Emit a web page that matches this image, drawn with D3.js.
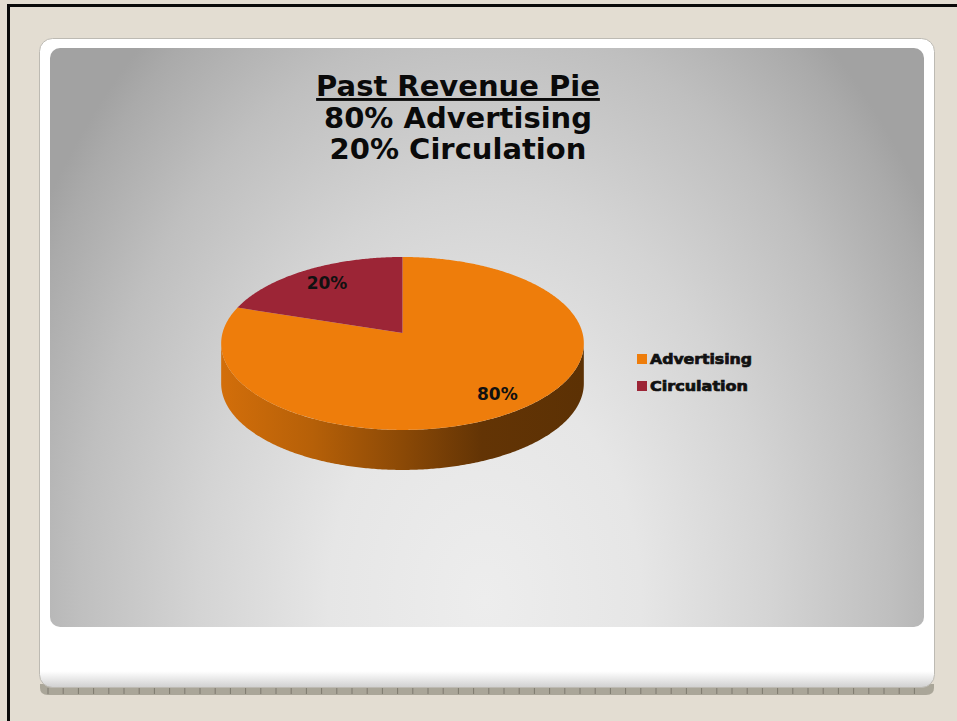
<!DOCTYPE html>
<html>
<head>
<meta charset="utf-8">
<script src="https://cdn.jsdelivr.net/npm/d3@7"></script>
<style>
  html, body { margin: 0; padding: 0; background: #e3ddd2; }
  svg { display: block; }
</style>
</head>
<body>
<svg id="chart" width="957" height="721"></svg>
<script>
// Revenue split
const categories = ["Advertising", "Circulation"];
const values = [80, 20];
const valueLabels = ["80%", "20%"];
const sliceColors = ["#ee7d0b", "#9c2536"];
const titleLines = ["Past Revenue Pie", "80% Advertising", "20% Circulation"];

const W = 957, H = 721;
const svg = d3.select("#chart");
const defs = svg.append("defs");

// ---- slide frame ----
svg.append("rect").attr("x", 0).attr("y", 0).attr("width", W).attr("height", H).attr("fill", "#e3ddd2");
svg.append("rect").attr("x", 7).attr("y", 4).attr("width", W - 7).attr("height", 3).attr("fill", "#0a0a0a");
svg.append("rect").attr("x", 7).attr("y", 4).attr("width", 3).attr("height", H - 4).attr("fill", "#0a0a0a");

// card bottom ruler strip
const strip = svg.append("g");
strip.append("path")
  .attr("d", "M40,684 L934,684 L934,688 Q934,695 926,695 L48,695 Q40,695 40,688 Z")
  .attr("fill", "#aaa699");
const tickX = d3.range(48, 928, 15.2);
strip.selectAll("line.tick").data(tickX).join("line")
  .attr("class", "tick")
  .attr("x1", d => d).attr("x2", d => d)
  .attr("y1", 688).attr("y2", 694)
  .attr("stroke", "#7d796e").attr("stroke-width", 1);

// white card
const cardShade = defs.append("linearGradient").attr("id", "cardShade")
  .attr("x1", 0).attr("y1", 0).attr("x2", 0).attr("y2", 1);
cardShade.append("stop").attr("offset", 0).attr("stop-color", "#ffffff");
cardShade.append("stop").attr("offset", 0.975).attr("stop-color", "#ffffff");
cardShade.append("stop").attr("offset", 1).attr("stop-color", "#d0d0d0");
svg.append("rect")
  .attr("x", 39.5).attr("y", 38.5).attr("width", 895).attr("height", 649)
  .attr("rx", 13).attr("ry", 13)
  .attr("fill", "url(#cardShade)")
  .attr("stroke", "#bdbab3").attr("stroke-width", 1);

// grey chart panel
const panelGrad = defs.append("radialGradient").attr("id", "panelGrad")
  .attr("gradientUnits", "userSpaceOnUse")
  .attr("cx", 0).attr("cy", 0).attr("r", 1)
  .attr("gradientTransform", "translate(485,600) scale(520,740)");
[[0, "#ededed"], [0.3, "#e6e6e6"], [0.55, "#d4d4d4"], [0.78, "#bfbfbf"], [0.95, "#aaaaaa"], [1, "#a2a2a2"]]
  .forEach(([o, c]) => panelGrad.append("stop").attr("offset", o).attr("stop-color", c));
svg.append("rect")
  .attr("x", 50).attr("y", 48).attr("width", 874).attr("height", 579)
  .attr("rx", 10).attr("ry", 10)
  .attr("fill", "url(#panelGrad)");

// ---- title ----
const title = svg.append("text")
  .attr("text-anchor", "middle")
  .attr("font-family", "'DejaVu Sans', Verdana, sans-serif")
  .attr("font-weight", "bold")
  .attr("font-size", 29)
  .attr("fill", "#0a0a0a");
title.selectAll("tspan").data(titleLines).join("tspan")
  .attr("x", 458)
  .attr("y", (d, i) => 96 + i * 31.5)
  .attr("text-decoration", (d, i) => i === 0 ? "underline" : null)
  .text(d => d);

// ---- 3D pie ----
const CX = 402.5, CY = 333, R = 180, RY = 85.2, P = 0.121, DEPTH = 40;

// project a point on the pie disc (angle clockwise from 12 o'clock, radius fraction r)
function proj(a, r = 1, dy = 0) {
  const u = r * Math.sin(a), v = -r * Math.cos(a);
  const s = 1 / (1 - P * v);
  return [CX + R * u * s, CY + RY * v * s + dy];
}

const pie = d3.pie().sort(null).value(d => d.value);
const arcs = pie(categories.map((c, i) => ({ name: c, value: values[i], label: valueLabels[i], color: sliceColors[i] })));

const line = d3.line();
const sample = (a0, a1, r = 1, dy = 0) => {
  const n = Math.max(2, Math.ceil(Math.abs(a1 - a0) / 0.01));
  return d3.range(n + 1).map(k => proj(a0 + (a1 - a0) * k / n, r, dy));
};

// silhouette angles of the rim (extreme left/right)
let aRight = Math.PI / 2, best = -Infinity;
d3.range(0, Math.PI, 0.001).forEach(a => { const x = proj(a)[0]; if (x > best) { best = x; aRight = a; } });
const aLeft = 2 * Math.PI - aRight;

const pieG = svg.append("g");

// side walls
arcs.forEach((d, i) => {
  const a0 = Math.max(d.startAngle, aRight), a1 = Math.min(d.endAngle, aLeft);
  if (a1 <= a0) return;
  const base = d3.color(d.data.color);
  const gid = "side" + i;
  const g = defs.append("linearGradient").attr("id", gid)
    .attr("gradientUnits", "userSpaceOnUse")
    .attr("x1", CX - R).attr("y1", 0).attr("x2", CX + R).attr("y2", 0);
  [[0, 0.35], [0.25, 0.75], [0.5, 1.5], [0.72, 2.45], [1, 2.65]].forEach(([o, k]) =>
    g.append("stop").attr("offset", o).attr("stop-color", base.darker(k).formatHex()));
  const top = sample(a0, a1);
  const bottom = sample(a1, a0, 1, DEPTH);
  pieG.append("path")
    .attr("d", line(top.concat(bottom)) + "Z")
    .attr("fill", `url(#${gid})`);
});

// top faces
pieG.selectAll("path.slice").data(arcs).join("path")
  .attr("class", "slice")
  .attr("d", d => line([[CX, CY]].concat(sample(d.startAngle, d.endAngle))) + "Z")
  .attr("fill", d => d.data.color);

// value labels
pieG.selectAll("text.val").data(arcs).join("text")
  .attr("class", "val")
  .attr("x", d => proj((d.startAngle + d.endAngle) / 2, 0.8)[0] + 3)
  .attr("y", d => proj((d.startAngle + d.endAngle) / 2, 0.8)[1] + 7)
  .attr("text-anchor", "middle")
  .attr("font-family", "'DejaVu Sans', Verdana, sans-serif")
  .attr("font-weight", "bold")
  .attr("font-size", 17)
  .attr("fill", "#111")
  .text(d => d.data.label);

// ---- legend ----
const legend = svg.append("g").attr("transform", "translate(637,354)");
const items = legend.selectAll("g").data(categories).join("g")
  .attr("transform", (d, i) => `translate(0,${i * 27})`);
items.append("rect").attr("width", 10).attr("height", 10).attr("fill", (d, i) => sliceColors[i]);
items.append("text")
  .attr("x", 13).attr("y", 9.5)
  .attr("font-family", "'DejaVu Sans', Verdana, sans-serif")
  .attr("font-weight", "bold")
  .attr("font-size", 13.5)
  .attr("fill", "#111")
  .attr("stroke", "#111").attr("stroke-width", 0.7)
  .attr("textLength", (d, i) => i === 0 ? 102 : 98)
  .attr("lengthAdjust", "spacingAndGlyphs")
  .text(d => d);
</script>
</body>
</html>
